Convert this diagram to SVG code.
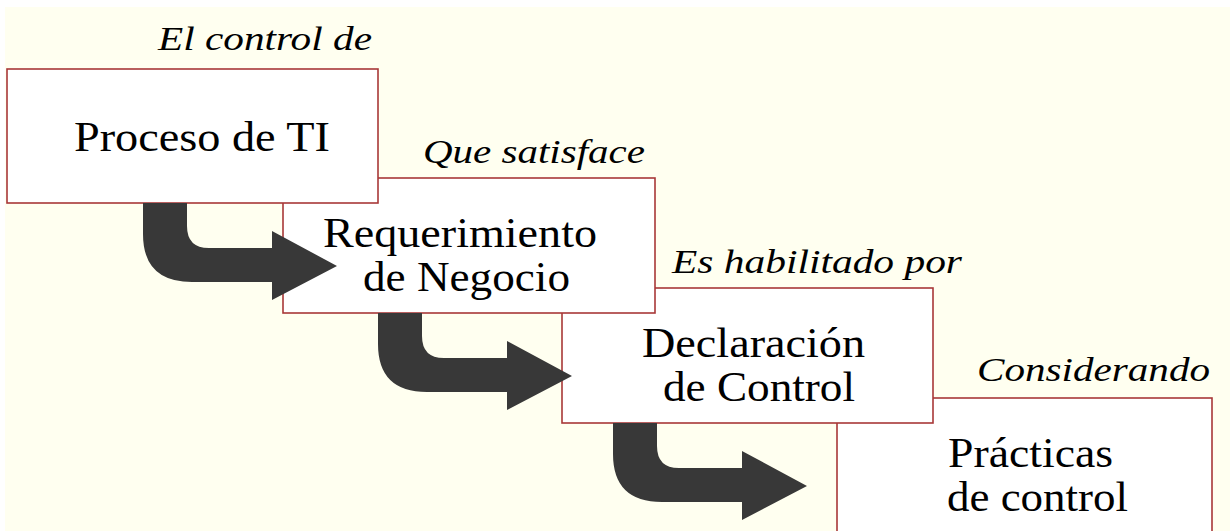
<svg xmlns="http://www.w3.org/2000/svg" width="1230" height="531" viewBox="0 0 1230 531">
<style>
.box{fill:#ffffff;stroke:#a83838;stroke-width:1.6}
.arrow{fill:#383838}
.lbl{font-family:"Liberation Serif","Times New Roman",serif;font-style:italic;font-size:34px;fill:#000}
.txt{font-family:"Liberation Serif","Times New Roman",serif;font-size:42px;fill:#000}
</style>
<rect x="0" y="0" width="1230" height="531" fill="#ffffff"/>
<rect x="5" y="7" width="1225" height="524" fill="#fffff0"/>
<defs>
<path id="arr" d="M143,203 L187,203 L187,226 Q187,248 209,248 L272,248 L272,231 L337,266 L272,300 L272,282 L192,282 Q143,282 143,234 Z"/>
</defs>
<g id="labels">
<text class="lbl" x="158" y="50" textLength="214" lengthAdjust="spacingAndGlyphs">El control de</text>
<text class="lbl" x="423" y="163" textLength="222" lengthAdjust="spacingAndGlyphs">Que satisface</text>
<text class="lbl" x="672" y="273" textLength="290" lengthAdjust="spacingAndGlyphs">Es habilitado por</text>
<text class="lbl" x="977" y="381" textLength="233" lengthAdjust="spacingAndGlyphs">Considerando</text>
</g>
<g id="node4">
<rect class="box" x="837" y="398" width="375" height="140"/>
<text class="txt" x="948" y="467" textLength="165" lengthAdjust="spacingAndGlyphs">Prácticas</text>
<text class="txt" x="947" y="511" textLength="181" lengthAdjust="spacingAndGlyphs">de control</text>
</g>
<g id="node3">
<rect class="box" x="562" y="288" width="371" height="135"/>
<text class="txt" x="642" y="357" textLength="223" lengthAdjust="spacingAndGlyphs">Declaración</text>
<text class="txt" x="663" y="401" textLength="192" lengthAdjust="spacingAndGlyphs">de Control</text>
</g>
<g id="node2">
<rect class="box" x="283" y="178" width="372" height="135"/>
<text class="txt" x="323" y="247" textLength="274" lengthAdjust="spacingAndGlyphs">Requerimiento</text>
<text class="txt" x="363" y="291" textLength="207" lengthAdjust="spacingAndGlyphs">de Negocio</text>
</g>
<g id="node1">
<rect class="box" x="7" y="69" width="371" height="134"/>
<text class="txt" x="74" y="151" textLength="256" lengthAdjust="spacingAndGlyphs">Proceso de TI</text>
</g>
<g id="connectors">
<use href="#arr" class="arrow"/>
<use href="#arr" class="arrow" transform="translate(235,110)"/>
<use href="#arr" class="arrow" transform="translate(470,220)"/>
</g>
</svg>
